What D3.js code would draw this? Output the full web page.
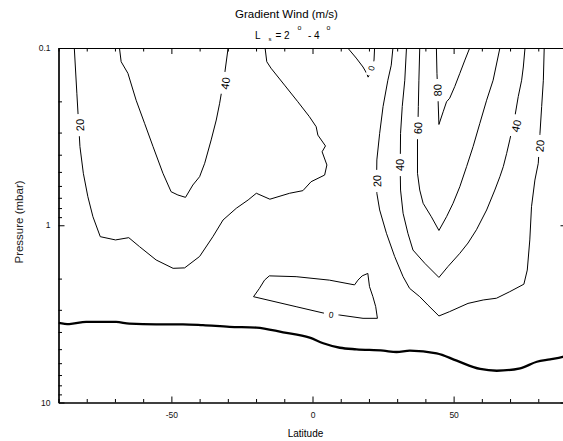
<!DOCTYPE html>
<html>
<head>
<meta charset="utf-8">
<script src="https://cdn.jsdelivr.net/npm/d3@7"></script>
<style>
body { margin: 0; background: #fff; }
svg { display: block; font-family: "Liberation Sans", Arial, sans-serif; }
</style>
</head>
<body>
<svg width="563" height="441"></svg>
<script>
// contour lines: [latitude, pressure (mbar)]
var west20 = [[-84.4,0.1],[-83.5,0.18],[-82.4,0.36],[-81.2,0.509],[-79.6,0.69],[-77.8,0.895],[-75.2,1.16],
  [-69.8,1.21],[-65.1,1.175],[-61.3,1.32],[-55.4,1.57],[-49.4,1.75],[-45.3,1.74],[-40,1.5],[-35.3,1.16],
  [-31.7,0.934],[-27,0.802],[-22.8,0.72],[-19.9,0.66],[-15.1,0.713],[-8.1,0.66],[-3.4,0.638],[-0.5,0.568],
  [4.3,0.521],[5.1,0.457],[3.4,0.385],[4.6,0.357],[1.9,0.31],[1.3,0.278],[-1.1,0.244],[-5.2,0.201],
  [-9.9,0.162],[-14.7,0.13],[-16.2,0.1195],[-16.8,0.1]];
var west40 = [[-68.4,0.1],[-67.8,0.1195],[-65.4,0.139],[-62.5,0.197],[-59.5,0.266],[-56.5,0.36],[-53,0.509],
  [-50.1,0.647],[-47.7,0.675],[-45,0.696],[-42.4,0.593],[-40,0.532],[-38.2,0.447],[-35.9,0.33],[-34.1,0.255],
  [-32.9,0.205],[-31.1,0.139],[-29.9,0.1]];
var top0 = [[12.5,0.1],[15.5,0.114],[17.9,0.128],[19.2,0.139],[19.7,0.146],[20.9,0.135],[21.8,0.117],[22,0.1]];
var east20 = [[28.5,0.1],[27.9,0.125],[26.7,0.152],[25,0.214],[23.8,0.303],[22.8,0.428],[22.7,0.563],[22.8,0.66],
  [23.8,0.82],[26.2,1.11],[29.1,1.5],[32.1,1.95],[34.4,2.27],[38,2.53],[40.9,2.82],[44.8,3.25],[48.6,3.07],
  [55.1,2.76],[60.5,2.64],[65.2,2.58],[69.9,2.37],[74.9,2.15],[76.1,1.79],[77,1.21],[77.6,0.786],[78.8,0.556],
  [80,0.447],[80.6,0.303],[81.2,0.214],[81.8,0.152],[82.1,0.1]];
var east40 = [[33.3,0.1],[32.7,0.152],[31.8,0.214],[31.2,0.303],[31.1,0.446],[31.1,0.509],[31.2,0.633],[32.1,0.856],
  [33.8,1.11],[35.6,1.38],[39.8,1.64],[44.8,1.97],[48,1.71],[52.2,1.44],[55.1,1.26],[58.1,1.06],[61.7,0.82],
  [64.6,0.633],[66.4,0.532],[67.6,0.467],[68.8,0.393],[69.9,0.33],[71.7,0.244],[72.9,0.188],[74.1,0.152],
  [74.7,0.128],[75.3,0.1]];
var east60 = [[38,0.1],[37.7,0.152],[37.5,0.214],[37.4,0.255],[37.2,0.33],[37.2,0.509],[38,0.633],[39.2,0.752],
  [42.1,0.895],[44.8,1.07],[47.5,0.895],[49.8,0.752],[52.2,0.606],[54.6,0.467],[56.9,0.36],[59.3,0.266],
  [61.7,0.197],[64,0.152],[66.4,0.1]];
var east80 = [[43.9,0.1],[44.1,0.139],[44.5,0.197],[44.8,0.27],[46.3,0.229],[47.5,0.201],[48.6,0.192],[50.4,0.165],
  [52.2,0.139],[54,0.117],[55.7,0.1]];
var low0 = [[-20.9,2.53],[-18.8,2.27],[-17,2.04],[-15.3,1.93],[-5.8,1.95],[6,2.04],[14.9,2.17],[16.1,2.04],
  [17.6,1.93],[19.6,1.87],[20.2,2.22],[21.4,2.53],[22.4,2.88],[23,3.35],[17.9,3.35],[9.6,3.21],[4.3,3.14],
  [-5.8,2.88],[-20.9,2.53]];

var contourLevels = [20, 40, 0, 20, 40, 60, 80, 0];
var contourLines = [west20, west40, top0, east20, east40, east60, east80, low0];

// contour labels: which line, where
var labelLine = [0, 1, 2, 3, 3, 4, 4, 5, 6, 7];
var labelLat = [-82.4, -30.9, 20.8, 22.9, 80.6, 31.1, 72.2, 37.4, 44.3, 6.6];
var labelP = [0.272, 0.158, 0.13, 0.563, 0.357, 0.457, 0.275, 0.283, 0.173, 3.2];

// heavy lower line
var lowerBound = [[-90,3.55],[-86.2,3.61],[-80.2,3.51],[-69.6,3.51],[-64.9,3.59],[-55.4,3.62],[-45.9,3.62],
  [-38.8,3.66],[-29.4,3.74],[-19.9,3.78],[-10.4,4.02],[-1,4.31],[3.8,4.63],[9.7,4.91],[15.6,5.01],[25.1,5.1],
  [29.8,5.19],[34.5,5.1],[44,5.28],[51.1,5.81],[59.4,6.47],[65.3,6.62],[73.6,6.41],[79.5,5.89],[84.2,5.71],
  [88.7,5.52],[90,5.45]];

var latTicks = [-50, 0, 50];
var latMinor = [-90,-80,-70,-60,-40,-30,-20,-10,10,20,30,40,60,70,80,90];
var pTicks = [0.1, 1, 10];
var pMinor = [0.2,0.3,0.4,0.5,0.6,0.7,0.8,0.9,2,3,4,5,6,7,8,9];

var svg = d3.select("svg");
var plotL = 58.5, plotR = 566.5, plotT = 48, plotB = 402.5;

var x = d3.scaleLinear().domain([-90, 90]).range([plotL, plotR]);
var y = d3.scaleLog().domain([0.1, 10]).range([plotT, plotB]);

svg.append("clipPath").attr("id", "plot")
  .append("rect").attr("x", plotL).attr("y", plotT).attr("width", plotR - plotL).attr("height", plotB - plotT);

var line = d3.line().x(function(d) { return x(d[0]); }).y(function(d) { return y(d[1]); });

var plot = svg.append("g").attr("clip-path", "url(#plot)");

plot.selectAll("path.contour").data(contourLines).enter().append("path")
  .attr("class", "contour")
  .attr("d", line)
  .attr("fill", "none").attr("stroke", "#000").attr("stroke-width", 1);

plot.append("path")
  .attr("d", line.curve(d3.curveMonotoneX)(lowerBound))
  .attr("fill", "none").attr("stroke", "#000").attr("stroke-width", 2.3);
line.curve(d3.curveLinear);

// angle of the contour where the label sits
function labelAngle(pts, lx, ly) {
  var best = Infinity, ang = 0;
  for (var i = 0; i < pts.length - 1; i++) {
    var ax = x(pts[i][0]), ay = y(pts[i][1]), bx = x(pts[i+1][0]), by = y(pts[i+1][1]);
    var dx = bx - ax, dy = by - ay, len = dx*dx + dy*dy;
    var t = len ? Math.max(0, Math.min(1, ((lx-ax)*dx + (ly-ay)*dy) / len)) : 0;
    var px = ax + t*dx - lx, py = ay + t*dy - ly, dist = px*px + py*py;
    if (dist < best) { best = dist; ang = Math.atan2(dy, dx) * 180 / Math.PI; }
  }
  if (ang > 45) ang -= 180;
  if (ang <= -135) ang += 180;
  return ang;
}

labelLine.forEach(function(li, i) {
  var lx = x(labelLat[i]), ly = y(labelP[i]);
  var level = contourLevels[li];
  var fs = level === 0 ? 8.5 : 11;
  var g = svg.append("g")
    .attr("transform", "translate(" + lx + "," + ly + ") rotate(" + labelAngle(contourLines[li], lx, ly) + ")");
  var bg = g.append("rect").attr("fill", "#fff");
  var t = g.append("text").text(level)
    .attr("text-anchor", "middle").attr("dy", "0.36em")
    .attr("font-size", fs).attr("fill", "#000");
  var w = t.node().getComputedTextLength() + 10;
  bg.attr("x", -w/2).attr("y", -fs*0.45).attr("width", w).attr("height", fs*0.9);
});

// axes, ticks pointing inward
function axisStyle(g) {
  g.selectAll("path.domain").attr("stroke", "#000").attr("stroke-width", 1.2);
  g.selectAll("line").attr("stroke", "#000").attr("stroke-width", 1);
  g.selectAll("text").attr("font-size", 8.5).attr("fill", "#111")
    .attr("font-family", "'Liberation Sans', Arial, sans-serif");
}

svg.append("g").attr("transform", "translate(0," + plotB + ")")
  .call(d3.axisBottom(x).tickValues(latMinor).tickSizeInner(-3.5).tickSizeOuter(0).tickFormat(""))
  .call(axisStyle);
svg.append("g").attr("transform", "translate(0," + plotB + ")")
  .call(d3.axisBottom(x).tickValues(latTicks).tickSizeInner(-6).tickSizeOuter(0).tickPadding(9)
    .tickFormat(function(d) { return String(d); }))
  .call(axisStyle);

svg.append("g").attr("transform", "translate(0," + plotT + ")")
  .call(d3.axisTop(x).tickValues(latMinor).tickSizeInner(-3.5).tickSizeOuter(0).tickFormat(""))
  .call(axisStyle);
svg.append("g").attr("transform", "translate(0," + plotT + ")")
  .call(d3.axisTop(x).tickValues(latTicks).tickSizeInner(-6).tickSizeOuter(0).tickFormat(""))
  .call(axisStyle);

svg.append("g").attr("transform", "translate(" + plotL + ",0)")
  .call(d3.axisLeft(y).tickValues(pMinor).tickSizeInner(-3.5).tickSizeOuter(0).tickFormat(""))
  .call(axisStyle);
svg.append("g").attr("transform", "translate(" + plotL + ",0)")
  .call(d3.axisLeft(y).tickValues(pTicks).tickSizeInner(-6).tickSizeOuter(0).tickPadding(8)
    .tickFormat(function(d) { return String(d); }))
  .call(axisStyle);

svg.append("g").attr("transform", "translate(" + plotR + ",0)")
  .call(d3.axisRight(y).tickValues(pMinor).tickSizeInner(-3.5).tickSizeOuter(0).tickFormat(""))
  .call(axisStyle);
svg.append("g").attr("transform", "translate(" + plotR + ",0)")
  .call(d3.axisRight(y).tickValues(pTicks).tickSizeInner(-6).tickSizeOuter(0).tickFormat(""))
  .call(axisStyle);

// titles
svg.append("text").attr("x", 286.5).attr("y", 18).attr("text-anchor", "middle")
  .attr("font-size", 11.5).text("Gradient Wind (m/s)");

var sub = svg.append("g").attr("font-size", 10);
sub.append("text").attr("x", 255).attr("y", 38.5).text("L");
sub.append("text").attr("x", 268.5).attr("y", 41).attr("font-size", 6).text("s");
sub.append("text").attr("x", 275.5).attr("y", 38.5).text("= 2");
sub.append("text").attr("x", 297.5).attr("y", 30).attr("font-size", 7).text("o");
sub.append("text").attr("x", 308).attr("y", 38.5).text("- 4");
sub.append("text").attr("x", 326.5).attr("y", 30).attr("font-size", 7).text("o");

svg.append("text").attr("x", 305.5).attr("y", 437).attr("text-anchor", "middle")
  .attr("font-size", 10).text("Latitude");

svg.append("text").attr("transform", "translate(23,222) rotate(-90)").attr("text-anchor", "middle")
  .attr("font-size", 11.5).attr("fill", "#222").text("Pressure (mbar)");
</script>
</body>
</html>
